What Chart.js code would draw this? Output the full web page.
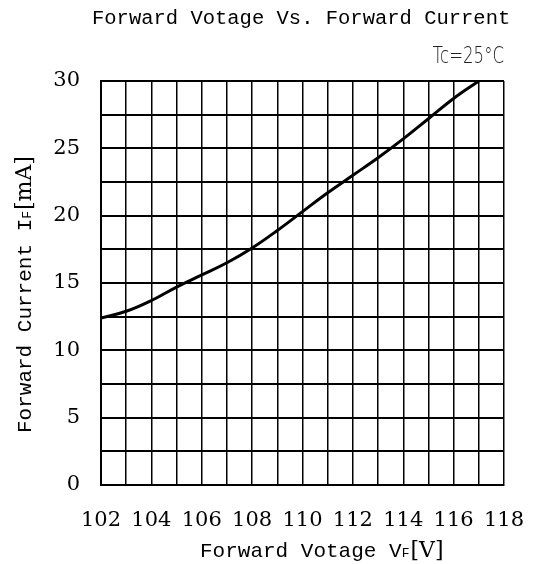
<!DOCTYPE html>
<html lang="en">
<head>
    <meta charset="UTF-8">
    <title>Forward Votage Vs. Forward Current</title>
    <script src="https://cdn.jsdelivr.net/npm/chart.js"></script>
    <style>
        body { margin: 0; background: #fff; }
        #wrap { width: 533px; height: 564px; }
    </style>
</head>
<body>
    <div id="wrap"><canvas id="ivChart"></canvas></div>

    <script>
        // values
        const voltage = [102, 103, 104, 105, 106, 107, 108, 109, 110, 111, 112, 113, 114, 115, 116, 117];
        const current = [12.4, 12.9, 13.7, 14.7, 15.6, 16.5, 17.6, 18.9, 20.3, 21.7, 23.0, 24.3, 25.7, 27.2, 28.7, 30.0];

        const xMin = 102, xMax = 118, xLabelStep = 2;
        const yMin = 0, yMax = 30, yLabelStep = 5;

        const tickFont = { family: 'DejaVu Serif', size: 21 };

        // draws title, temperature note and axis titles (with subscripts)
        const textPlugin = {
            id: 'texts',
            afterDraw(chart) {
                const ctx = chart.ctx;
                ctx.save();
                ctx.fillStyle = '#000';
                ctx.textBaseline = 'alphabetic';

                ctx.font = '20.5px "Liberation Mono"';
                ctx.textAlign = 'left';
                ctx.fillText('Forward Votage Vs. Forward Current', 92, 24);

                // narrow, thin note in the top right corner
                ctx.save();
                ctx.font = '200 23px "DejaVu Sans"';
                ctx.fillStyle = '#222';
                ctx.textAlign = 'right';
                ctx.translate(504, 63);
                ctx.scale(0.72, 1);
                ctx.fillText('Tc=25°C', 0, 0);
                ctx.restore();

                ctx.fillStyle = '#000';
                ctx.textAlign = 'left';
                drawSub(ctx, 'Forward Votage V', 'F', '[V]', 200, 557);

                ctx.translate(31, 433);
                ctx.rotate(-Math.PI / 2);
                drawSub(ctx, 'Forward Current I', 'F', '[mA]', 0, 0);
                ctx.restore();
            }
        };

        function drawSub(ctx, before, sub, after, x, y) {
            ctx.font = '21px "Liberation Mono"';
            ctx.fillText(before, x, y);
            x += ctx.measureText(before).width;
            ctx.font = '13px "Liberation Mono"';
            ctx.fillText(sub, x, y);
            x += ctx.measureText(sub).width + 1;
            ctx.font = '22px "DejaVu Serif"';
            ctx.fillText(after, x, y);
        }

        new Chart(document.getElementById('ivChart'), {
            type: 'line',
            data: {
                datasets: [{
                    data: voltage.map((v, i) => ({ x: v, y: current[i] })),
                    borderColor: '#000',
                    borderWidth: 3,
                    pointRadius: 0,
                    tension: 0.4,
                    fill: false
                }]
            },
            options: {
                responsive: true,
                maintainAspectRatio: false,
                animation: false,
                layout: { padding: { top: 81, right: 29, left: 0, bottom: 0 } },
                plugins: {
                    legend: { display: false },
                    tooltip: { enabled: false }
                },
                scales: {
                    x: {
                        type: 'linear',
                        min: xMin,
                        max: xMax,
                        afterFit(scale) {
                            scale.height = 79;
                            scale.paddingLeft = 0;
                            scale.paddingRight = 0;
                        },
                        grid: { color: '#000', lineWidth: 1.5, drawTicks: false },
                        border: { color: '#000', width: 2 },
                        ticks: {
                            stepSize: 1,
                            padding: 23,
                            maxRotation: 0,
                            autoSkip: false,
                            color: '#000',
                            font: tickFont,
                            callback: v => (v - xMin) % xLabelStep === 0 ? v : ''
                        }
                    },
                    y: {
                        min: yMin,
                        max: yMax,
                        afterFit(scale) {
                            scale.width = 101;
                            scale.paddingTop = 0;
                            scale.paddingBottom = 0;
                        },
                        grid: { color: '#000', lineWidth: 2, drawTicks: false },
                        border: { color: '#000', width: 2 },
                        ticks: {
                            stepSize: 2.5,
                            padding: 21,
                            autoSkip: false,
                            color: '#000',
                            font: tickFont,
                            callback: v => v % yLabelStep === 0 ? v : ''
                        }
                    }
                }
            },
            plugins: [textPlugin]
        });
    </script>
</body>
</html>
